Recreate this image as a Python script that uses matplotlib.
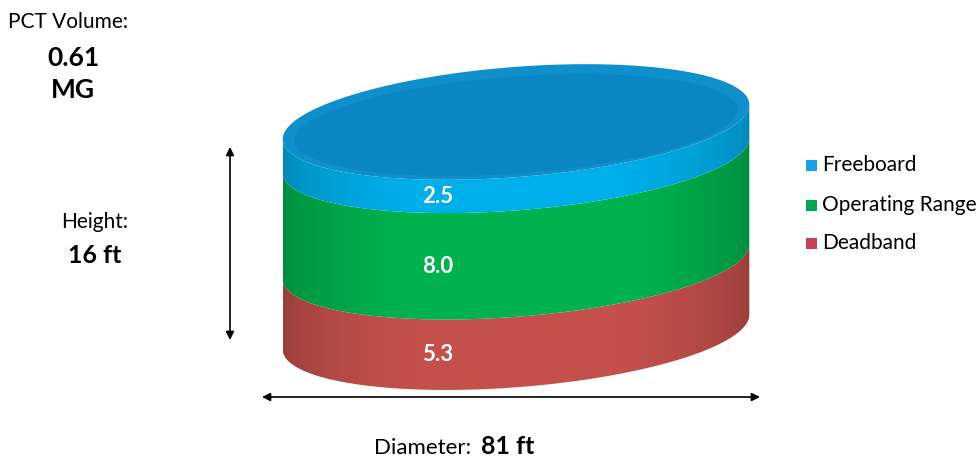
import numpy as np
import matplotlib.pyplot as plt
from matplotlib.patches import Polygon, Rectangle
from matplotlib.colors import to_rgb

plt.rcParams['font.family'] = ['Lato', 'DejaVu Sans']

# data (bottom to top)
layers = ['Deadband', 'Operating Range', 'Freeboard']
heights = [5.3, 8.0, 2.5]
side_colors = ['#C4504C', '#00B24E', '#00AEEA']
legend_colors = ['#C8405A', '#00A651', '#1BA1E2']
top_color = '#0A86C4'
volume = '0.61'
height_txt = '16 ft'
diameter_txt = '81 ft'

fig = plt.figure(figsize=(9.79, 4.61), dpi=100)
ax = fig.add_axes([0, 0, 1, 1])

# cylinder geometry (pixel space)
cx, cy_top = 516, 122
a, b = 234, 55
tilt = np.deg2rad(-4.5)
s = 13.3  # px per ft
H = sum(heights)


def ellipse_pts(yc, t):
    x = cx + a * np.cos(t) * np.cos(tilt) - b * np.sin(t) * np.sin(tilt)
    y = yc + a * np.cos(t) * np.sin(tilt) + b * np.sin(t) * np.cos(tilt)
    return x, y


t_right = np.arctan2(-b * np.sin(tilt), a * np.cos(tilt))
t_front = np.linspace(t_right, t_right + np.pi, 200)
x_left = ellipse_pts(0, t_right + np.pi)[0]
x_right = ellipse_pts(0, t_right)[0]

u = np.linspace(0, 1, 300)
shade = np.clip(0.78 + 0.26 * np.sin(np.pi * u) ** 0.6, 0, 1.0)

h0 = 0
for name, h, col in zip(layers, heights, side_colors):
    h1 = h0 + h
    yc_up = cy_top + (H - h1) * s
    yc_lo = cy_top + (H - h0) * s
    xu, yu = ellipse_pts(yc_up, t_front)
    xl, yl = ellipse_pts(yc_lo, t_front)
    pts = np.column_stack([np.r_[xu, xl[::-1]], np.r_[yu, yl[::-1]]])
    patch = Polygon(pts, closed=True, facecolor='none', edgecolor='none')
    ax.add_patch(patch)
    grad = np.clip(shade[None, :, None] * np.array(to_rgb(col))[None, None, :], 0, 1)
    im = ax.imshow(grad, extent=(x_left, x_right, yl.max() + 2, yu.min() - 2),
                   aspect='auto', interpolation='bilinear', zorder=2)
    im.set_clip_path(patch)
    # value label
    ymid = cy_top + b * np.cos(tilt) + (H - (h0 + h1) / 2) * s + 3
    ax.text(cx - 78, ymid, f'{h:.1f}', color='white', fontsize=16,
            fontweight='bold', ha='center', va='center', zorder=5)
    h0 = h1

# top face
t_all = np.linspace(0, 2 * np.pi, 400)
xt, yt = ellipse_pts(cy_top, t_all)
ax.add_patch(Polygon(np.column_stack([xt, yt]), closed=True,
                     facecolor='#0F8FCC', edgecolor='none', zorder=3))
xi, yi = ellipse_pts(cy_top + 3, t_all)
ax.add_patch(Polygon(np.column_stack([cx + (xi - cx) * 0.95, cy_top + 3 + (yi - cy_top - 3) * 0.88]),
                     closed=True, facecolor=top_color, edgecolor='none', zorder=3))

# dimension arrows
arrow = dict(arrowstyle='<|-|>', color='black', lw=1.2, mutation_scale=12,
             shrinkA=0, shrinkB=0)
ax.annotate('', xy=(230, 147), xytext=(230, 340), arrowprops=arrow)
ax.annotate('', xy=(262, 397), xytext=(760, 397), arrowprops=arrow)

# annotations
ax.text(8, 22, 'PCT Volume:', fontsize=15, ha='left', va='center')
ax.text(73, 58, volume, fontsize=19, fontweight='bold', ha='center', va='center')
ax.text(73, 90, 'MG', fontsize=19, fontweight='bold', ha='center', va='center')
ax.text(95, 222, 'Height:', fontsize=15, ha='center', va='center')
ax.text(95, 255, height_txt, fontsize=18, fontweight='bold', ha='center', va='center')
ax.text(471, 448, 'Diameter:', fontsize=16, ha='right', va='center')
ax.text(481, 446, diameter_txt, fontsize=18, fontweight='bold', ha='left', va='center')

# legend
leg_y = [165, 205, 243]
for y, name, col in zip(leg_y, layers[::-1], legend_colors[::-1]):
    ax.add_patch(Rectangle((806, y - 5.5), 11, 11, facecolor=col, edgecolor='none'))
    ax.text(822, y, name, fontsize=15, ha='left', va='center')

ax.set_xlim(0, 979)
ax.set_ylim(461, 0)
ax.axis('off')

plt.savefig('out.png', dpi=100)
